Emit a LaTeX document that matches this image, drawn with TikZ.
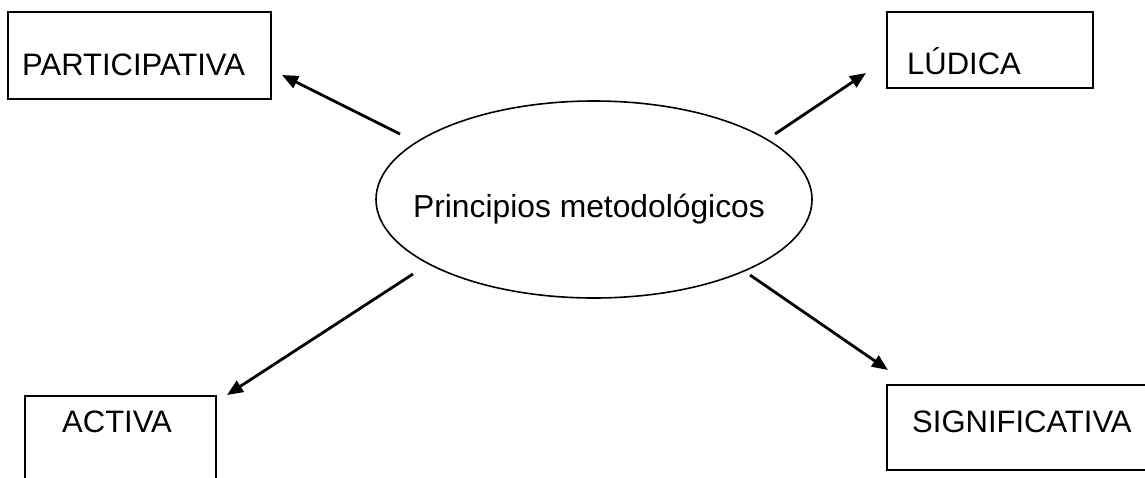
\documentclass[tikz,border=0pt]{standalone}
\usepackage{fontspec}
\setmainfont{Liberation Sans}
\usetikzlibrary{shapes.geometric,arrows.meta}

\begin{document}
\begin{tikzpicture}[x=1pt,y=-1pt,
  box/.style={draw,line width=1.6pt,inner sep=0pt},
  word/.style={anchor=base west,inner sep=0pt,font=\fontsize{31}{37}\selectfont},
  arr/.style={-{Triangle[length=16pt,width=13pt]},line width=2.8pt}]
  \useasboundingbox (0,0) rectangle (1145,477);
  \clip (0,0) rectangle (1145,477);
  % centre
  \node[ellipse,draw,line width=1.6pt,inner sep=0pt,minimum width=436pt,minimum height=197pt] (Prin) at (594,199.5) {};
  \node[anchor=base,inner sep=0pt,font=\fontsize{31.8}{37}\selectfont] (PrinText) at (589,217) {Principios metodológicos};
  % boxes
  \node[box,minimum width=263pt,minimum height=87pt] (Part) at (139.5,55.5) {};
  \node[word] (PartText) at (22,75) {PARTICIPATIVA};
  \node[box,minimum width=206pt,minimum height=76pt] (Lud) at (990,50) {};
  \node[word] (LudText) at (907,74) {LÚDICA};
  \node[box,minimum width=191pt,minimum height=110pt] (Act) at (120.5,451) {};
  \node[word] (ActText) at (62,432) {ACTIVA};
  \node[box,minimum width=290pt,minimum height=85pt] (Sig) at (1032,427.5) {};
  \node[word] (SigText) at (912,432) {SIGNIFICATIVA};
  % arrow ends
  \coordinate (PartFrom) at (400,134);
  \coordinate (PartTo) at (282,75);
  \coordinate (LudFrom) at (775,134);
  \coordinate (LudTo) at (866,73);
  \coordinate (ActFrom) at (413,274);
  \coordinate (ActTo) at (227,395);
  \coordinate (SigFrom) at (750,275);
  \coordinate (SigTo) at (888,370);
  \draw[arr] (PartFrom) -- (PartTo);
  \draw[arr] (LudFrom) -- (LudTo);
  \draw[arr] (ActFrom) -- (ActTo);
  \draw[arr] (SigFrom) -- (SigTo);
\end{tikzpicture}
\end{document}
